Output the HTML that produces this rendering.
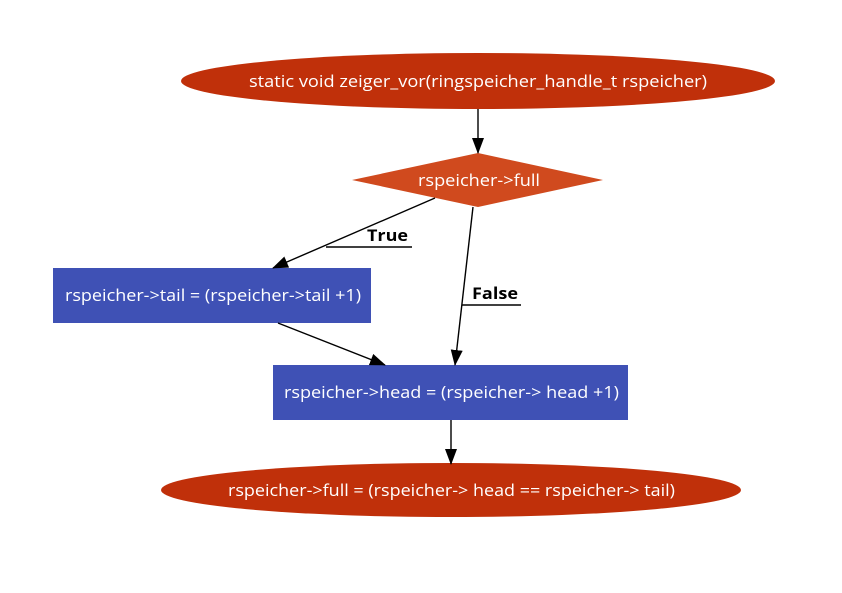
<!DOCTYPE html>
<html><head><style>body{margin:0;background:#fff}</style></head><body>
<svg width="842" height="588" xmlns="http://www.w3.org/2000/svg" font-family="'Open Sans','DejaVu Sans','Liberation Sans',sans-serif">
<defs><marker id="b" markerWidth="16" markerHeight="12" refX="15" refY="6" orient="auto" markerUnits="userSpaceOnUse"><path d="M0,0L16,6L0,12z" fill="#000"/></marker></defs>
<ellipse cx="478" cy="81" rx="297" ry="28" fill="#c0300a"/>
<text x="249" y="87" fill="#fff" font-size="16.5" textLength="458" lengthAdjust="spacingAndGlyphs">static void  zeiger_vor(ringspeicher_handle_t rspeicher)</text>
<polygon points="352,180 478,153 603,180 478,207" fill="#d04a1e"/>
<text x="418" y="186" fill="#fff" font-size="16.5" textLength="122" lengthAdjust="spacingAndGlyphs">rspeicher-&gt;full</text>
<rect x="53" y="268" width="318" height="55" fill="#3f51b5"/>
<text x="65" y="301" fill="#fff" font-size="16.5" textLength="296" lengthAdjust="spacingAndGlyphs">rspeicher-&gt;tail = (rspeicher-&gt;tail +1)</text>
<rect x="273" y="365" width="355" height="55" fill="#3f51b5"/>
<text x="284" y="398" fill="#fff" font-size="16.5" textLength="335" lengthAdjust="spacingAndGlyphs">rspeicher-&gt;head = (rspeicher-&gt; head +1)</text>
<ellipse cx="451" cy="490" rx="290" ry="27" fill="#c0300a"/>
<text x="228" y="496" fill="#fff" font-size="16.5" textLength="447" lengthAdjust="spacingAndGlyphs">rspeicher-&gt;full = (rspeicher-&gt; head == rspeicher-&gt; tail)</text>
<g stroke="#000" stroke-width="1.4" fill="none">
<line x1="478" y1="109" x2="478" y2="153" marker-end="url(#b)"/>
<line x1="435" y1="198" x2="273" y2="268" marker-end="url(#b)"/>
<line x1="473" y1="207" x2="455" y2="365" marker-end="url(#b)"/>
<line x1="278" y1="323" x2="385" y2="365" marker-end="url(#b)"/>
<line x1="451" y1="420" x2="451" y2="464" marker-end="url(#b)"/>
<line x1="326" y1="247" x2="412" y2="247"/>
<line x1="462" y1="305" x2="521" y2="305"/>
</g>
<text x="367" y="241" font-size="16.5" font-weight="bold" textLength="41" lengthAdjust="spacingAndGlyphs">True</text>
<text x="472" y="299" font-size="16.5" font-weight="bold" textLength="46" lengthAdjust="spacingAndGlyphs">False</text>
</svg>
</body></html>
